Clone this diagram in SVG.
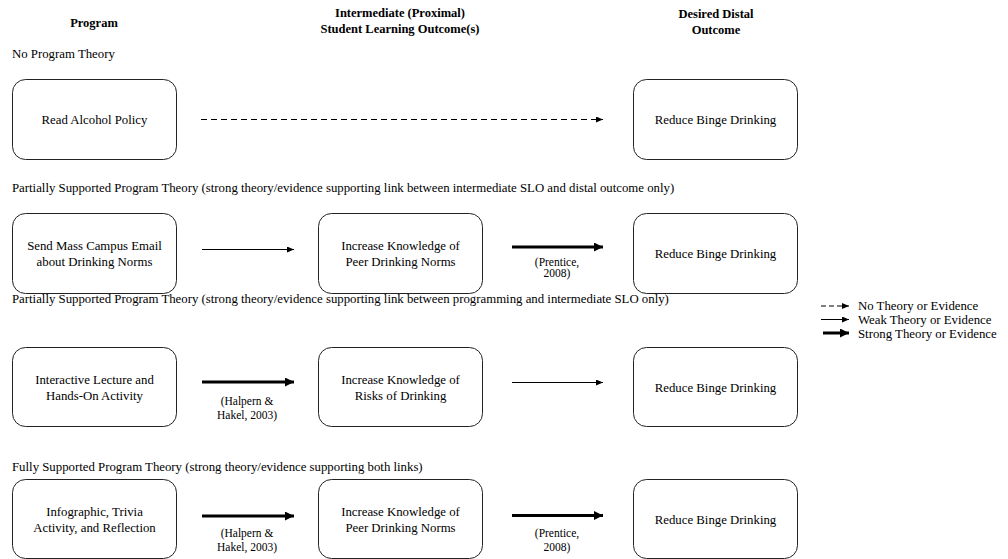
<svg xmlns="http://www.w3.org/2000/svg" width="1008" height="559" viewBox="0 0 1008 559">
<defs>
<style>
text{font-family:"Liberation Serif","Times New Roman",serif;fill:#000;}
.h{font-size:12.5px;font-weight:bold;text-anchor:middle;}
.lbl{font-size:12.8px;}
.t{font-size:12.8px;text-anchor:middle;}
.c{font-size:11.5px;text-anchor:middle;}
.box{fill:#fff;stroke:#222;stroke-width:1;}
.thin{stroke:#000;stroke-width:1;fill:none;marker-end:url(#ah);}
.dash{stroke:#000;stroke-width:1;fill:none;stroke-dasharray:6 4;marker-end:url(#ah);}
.thick{stroke:#000;stroke-width:3;fill:none;marker-end:url(#ahb);}
</style>
<marker id="ah" markerUnits="userSpaceOnUse" markerWidth="8" markerHeight="6" refX="7" refY="3" orient="auto"><path d="M0,0 L7,3 L0,6 z" fill="#000"/></marker>
<marker id="ahb" markerUnits="userSpaceOnUse" markerWidth="10" markerHeight="9" refX="9" refY="4.5" orient="auto"><path d="M0,0 L9,4.5 L0,9 z" fill="#000"/></marker>
</defs>
<rect width="1008" height="559" fill="#fff"/>
<g id="headers">
<text class="h" x="94" y="27">Program</text>
<text class="h" x="400" y="17">Intermediate (Proximal)</text>
<text class="h" x="400" y="33">Student Learning Outcome(s)</text>
<text class="h" x="716" y="18">Desired Distal</text>
<text class="h" x="716" y="34">Outcome</text>
</g>
<g id="row-labels">
<text class="lbl" x="12" y="58">No Program Theory</text>
<text class="lbl" x="12" y="192">Partially Supported Program Theory (strong theory/evidence supporting link between intermediate SLO and distal outcome only)</text>
<text class="lbl" x="12" y="303">Partially Supported Program Theory (strong theory/evidence supporting link between programming and intermediate SLO only)</text>
<text class="lbl" x="12" y="471">Fully Supported Program Theory (strong theory/evidence supporting both links)</text>
</g>
<g id="node-r1-program"><rect class="box" x="12.5" y="79.5" width="164" height="80" rx="13"/><text class="t" x="94.5" y="124">Read Alcohol Policy</text></g>
<g id="node-r1-outcome"><rect class="box" x="633.5" y="79.5" width="164" height="80" rx="13"/><text class="t" x="715.5" y="124">Reduce Binge Drinking</text></g>
<g id="node-r2-program"><rect class="box" x="12.5" y="213.5" width="164" height="80" rx="13"/><text class="t" x="94.5" y="249.5">Send Mass Campus Email</text><text class="t" x="94.5" y="265.5">about Drinking Norms</text></g>
<g id="node-r2-slo"><rect class="box" x="318.5" y="213.5" width="164" height="80" rx="13"/><text class="t" x="400.5" y="249.5">Increase Knowledge of</text><text class="t" x="400.5" y="265.5">Peer Drinking Norms</text></g>
<g id="node-r2-outcome"><rect class="box" x="633.5" y="213.5" width="164" height="80" rx="13"/><text class="t" x="715.5" y="257.5">Reduce Binge Drinking</text></g>
<g id="node-r3-program"><rect class="box" x="12.5" y="347.5" width="164" height="79" rx="13"/><text class="t" x="94.5" y="383.5">Interactive Lecture and</text><text class="t" x="94.5" y="399.5">Hands-On Activity</text></g>
<g id="node-r3-slo"><rect class="box" x="318.5" y="347.5" width="164" height="79" rx="13"/><text class="t" x="400.5" y="383.5">Increase Knowledge of</text><text class="t" x="400.5" y="399.5">Risks of Drinking</text></g>
<g id="node-r3-outcome"><rect class="box" x="633.5" y="347.5" width="164" height="79" rx="13"/><text class="t" x="715.5" y="391.5">Reduce Binge Drinking</text></g>
<g id="node-r4-program"><rect class="box" x="12.5" y="479.5" width="164" height="79" rx="13"/><text class="t" x="94.5" y="516">Infographic, Trivia</text><text class="t" x="94.5" y="532">Activity, and Reflection</text></g>
<g id="node-r4-slo"><rect class="box" x="318.5" y="479.5" width="164" height="79" rx="13"/><text class="t" x="400.5" y="516">Increase Knowledge of</text><text class="t" x="400.5" y="532">Peer Drinking Norms</text></g>
<g id="node-r4-outcome"><rect class="box" x="633.5" y="479.5" width="164" height="79" rx="13"/><text class="t" x="715.5" y="524">Reduce Binge Drinking</text></g>
<g id="connectors">
<line class="dash" x1="201" y1="119.5" x2="603" y2="119.5"/>
<line class="thin" x1="202" y1="249.5" x2="294" y2="249.5"/>
<line class="thick" x1="512" y1="247" x2="603" y2="247"/>
<line class="thick" x1="202" y1="382" x2="294" y2="382"/>
<line class="thin" x1="512" y1="382.5" x2="603" y2="382.5"/>
<line class="thick" x1="202" y1="516" x2="294" y2="516"/>
<line class="thick" x1="512" y1="515.5" x2="603" y2="515.5"/>
</g>
<g id="citations">
<text class="c" x="557" y="266">(Prentice,</text>
<text class="c" x="557" y="277">2008)</text>
<text class="c" x="247" y="405">(Halpern &amp;</text>
<text class="c" x="247" y="419">Hakel, 2003)</text>
<text class="c" x="247" y="537">(Halpern &amp;</text>
<text class="c" x="247" y="550.5">Hakel, 2003)</text>
<text class="c" x="557" y="537">(Prentice,</text>
<text class="c" x="557" y="550.5">2008)</text>
</g>
<g id="legend">
<line class="dash" x1="821" y1="306" x2="849" y2="306" style="stroke-dasharray:5 3"/>
<line class="thin" x1="821" y1="319.5" x2="849" y2="319.5"/>
<line class="thick" x1="823" y1="333" x2="849" y2="333"/>
<text class="lbl" x="858" y="310">No Theory or Evidence</text>
<text class="lbl" x="858" y="323.5">Weak Theory or Evidence</text>
<text class="lbl" x="858" y="337.5">Strong Theory or Evidence</text>
</g>
</svg>
